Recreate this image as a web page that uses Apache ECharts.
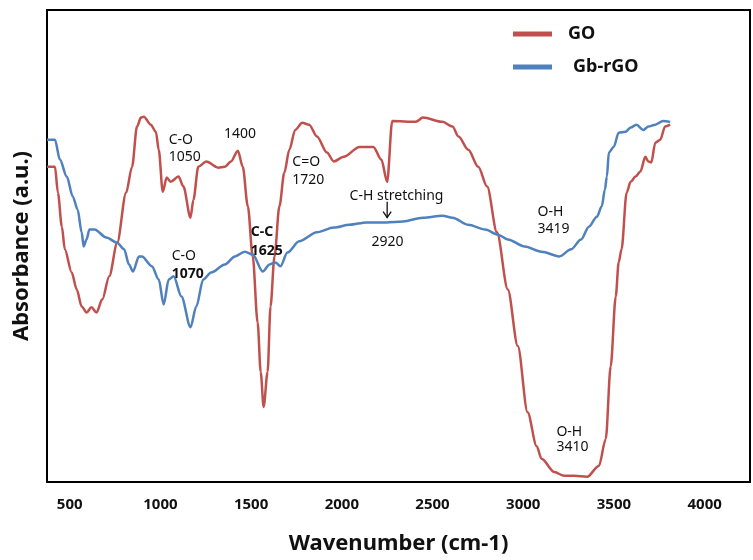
<!DOCTYPE html>
<html>
<head>
<meta charset="utf-8">
<script src="https://cdn.jsdelivr.net/npm/echarts@6/dist/echarts.min.js"></script>
<style>html,body{margin:0;padding:0;background:#fff;}#c{width:753px;height:560px;}</style>
</head>
<body>
<div id="c"></div>
<script>
// Wavenumber (cm-1) / absorbance (a.u., 0 = bottom, 100 = top of frame)
const goData = [
 [375,66.8],[419,66.8],[435,61.3],[457,54.1],[473,49.3],[511,44.4],[539,40.8],[566,37.2],[593,35.9],[620,37.0],[648,35.9],
 [680,38.7],[718,43.6],[762,50.7],[811,61.3],[844,66.8],[871,75.3],[893,77.2],[909,77.4],[947,75.7],[975,74.2],[991,70.4],
 [1013,61.5],[1035,64.5],[1056,63.6],[1100,64.7],[1127,62.6],[1166,56.0],[1182,59.8],[1209,66.8],[1253,67.9],[1318,66.6],
 [1356,66.8],[1389,67.9],[1427,70.2],[1454,66.8],[1482,58.4],[1509,47.8],[1536,33.8],[1553,23.3],[1569,15.9],[1591,23.3],
 [1607,37.2],[1629,47.8],[1656,58.4],[1683,65.5],[1711,70.4],[1743,74.6],[1782,76.1],[1820,75.7],[1863,73.2],[1918,69.8],
 [1956,67.9],[2010,68.9],[2098,71.0],[2174,71.0],[2218,68.3],[2250,63.6],[2278,76.5],[2408,76.3],[2447,77.2],[2556,76.3],
 [2610,75.3],[2643,73.2],[2697,70.4],[2752,66.8],[2801,62.6],[2855,52.9],[2915,40.8],[2970,28.8],[3024,14.8],[3074,7.6],
 [3101,4.9],[3172,2.1],[3226,1.3],[3281,1.3],[3352,1.1],[3417,3.4],[3455,9.1],[3482,24.5],[3510,39.3],[3526,46.5],
 [3542,49.3],[3570,61.3],[3592,63.6],[3619,64.7],[3646,65.8],[3673,68.9],[3690,67.9],[3706,67.7],[3728,71.9],[3755,72.5],
 [3782,75.3],[3810,75.7]
];
const gbrgoData = [
 [375,72.5],[419,72.5],[446,68.3],[484,64.7],[517,60.5],[544,57.7],[566,52.9],[577,49.9],[593,51.4],[609,53.5],[637,53.5],
 [702,51.8],[762,50.7],[800,49.3],[827,46.1],[849,44.6],[882,47.8],[898,47.8],[953,45.7],[991,42.9],[1018,37.6],[1046,42.9],
 [1073,43.6],[1116,39.3],[1166,32.8],[1198,37.2],[1236,42.9],[1280,44.4],[1356,46.1],[1411,47.8],[1465,48.8],[1509,48.2],
 [1564,44.6],[1602,46.1],[1634,46.5],[1662,45.7],[1700,48.6],[1765,51.0],[1863,52.9],[1956,53.9],[2043,54.5],[2136,55.0],
 [2245,55.0],[2338,55.2],[2447,56.0],[2556,56.4],[2610,56.0],[2697,54.5],[2790,53.5],[2861,52.4],[2915,51.4],[3008,49.9],
 [3101,48.8],[3199,47.8],[3264,49.3],[3319,51.4],[3362,54.1],[3406,56.2],[3433,58.4],[3450,61.9],[3461,64.7],[3472,69.8],
 [3499,71.0],[3526,74.0],[3564,74.2],[3592,75.1],[3624,75.7],[3662,74.6],[3690,75.3],[3728,75.7],[3771,76.5],[3810,76.3]
];
const seriesNames = ['GO', 'Gb-rGO'];
const tickStep = 500;
// annotations: [text, wavenumber, absorbance (top of text), bold, lineHeight]
const annotations = [
 ['C-O\n1050', 1046, 74.3, false, 17],
 ['1400', 1351, 75.6, false, 17],
 ['C=O\n1720', 1727, 69.8, false, 18],
 ['C-H stretching', 2043, 62.3, false, 17],
 ['2920', 2163, 52.7, false, 17],
 ['C-C\n1625', 1498, 54.9, true, 19],
 ['C-O', 1062, 49.6, false, 17],
 ['1070', 1062, 45.8, true, 17],
 ['O-H\n3419', 3079, 59.1, false, 17],
 ['O-H\n3410', 3183, 12.1, false, 15]
];
const arrowAt = [2250, 59.4, 56.0];

const RED = '#C0504D', BLUE = '#4F81BD';
const chart = echarts.init(document.getElementById('c'));
const font = "'Noto Sans', 'DejaVu Sans', sans-serif";
chart.setOption({
  animation: false,
  backgroundColor: '#fff',
  textStyle: { fontFamily: font },
  grid: { left: 47, top: 10, width: 713, height: 473, show: true, borderColor: '#000', borderWidth: 2, backgroundColor: 'transparent' },
  legend: [
    { data: [seriesNames[0]], left: 508, top: 20, orient: 'vertical', icon: 'rect', itemWidth: 39, itemHeight: 5,
      textStyle: { fontSize: 18, fontWeight: 'bold', color: '#111', padding: [0, 0, 0, 11], fontFamily: font } },
    { data: [seriesNames[1]], left: 508, top: 53, orient: 'vertical', icon: 'rect', itemWidth: 39, itemHeight: 5,
      textStyle: { fontSize: 18, fontWeight: 'bold', color: '#111', padding: [0, 0, 0, 16], fontFamily: font } }
  ],
  xAxis: {
    type: 'value', min: 375, max: 4250, interval: 125,
    name: 'Wavenumber (cm-1)', nameLocation: 'middle', nameGap: 51,
    nameTextStyle: { fontSize: 22, fontWeight: 'bold', color: '#111', fontFamily: font },
    axisLine: { show: true, lineStyle: { color: '#000', width: 2 } },
    axisTick: { show: false }, splitLine: { show: false },
    axisLabel: { margin: 15, fontSize: 15, fontWeight: 'bold', color: '#111',
      formatter: v => (v % tickStep === 0 ? String(v) : '') }
  },
  yAxis: {
    type: 'value', min: 0, max: 100,
    name: 'Absorbance (a.u.)', nameLocation: 'middle', nameGap: 14,
    nameTextStyle: { fontSize: 22, fontWeight: 'bold', color: '#111', fontFamily: font },
    axisLine: { show: true, lineStyle: { color: '#000', width: 2 } },
    axisTick: { show: false }, splitLine: { show: false }, axisLabel: { show: false }
  },
  series: [
    { name: seriesNames[0], type: 'line', data: goData, symbol: 'none', smooth: 0.3, smoothMonotone: 'x',
      lineStyle: { color: RED, width: 2.5 }, itemStyle: { color: RED } },
    { name: seriesNames[1], type: 'line', data: gbrgoData, symbol: 'none', smooth: 0.3, smoothMonotone: 'x',
      lineStyle: { color: BLUE, width: 2.5 }, itemStyle: { color: BLUE } }
  ]
});

const g = [];
annotations.forEach(a => {
  const p = chart.convertToPixel({ gridIndex: 0 }, [a[1], a[2]]);
  g.push({ type: 'text', x: p[0], y: p[1], z: 100,
    style: { text: a[0], fill: '#111', font: (a[3] ? 'bold ' : '') + '14px ' + font,
      textAlign: 'left', textVerticalAlign: 'top', lineHeight: a[4] } });
});
const a1 = chart.convertToPixel({ gridIndex: 0 }, [arrowAt[0], arrowAt[1]]);
const a2 = chart.convertToPixel({ gridIndex: 0 }, [arrowAt[0], arrowAt[2]]);
g.push({ type: 'line', z: 100, shape: { x1: a1[0], y1: a1[1], x2: a2[0], y2: a2[1] }, style: { stroke: '#111', lineWidth: 1.3 } });
g.push({ type: 'polyline', z: 100, shape: { points: [[a2[0] - 4, a2[1] - 6], [a2[0], a2[1]], [a2[0] + 4, a2[1] - 6]] },
  style: { stroke: '#111', lineWidth: 1.3, fill: null } });
chart.setOption({ graphic: g });
</script>
</body>
</html>
